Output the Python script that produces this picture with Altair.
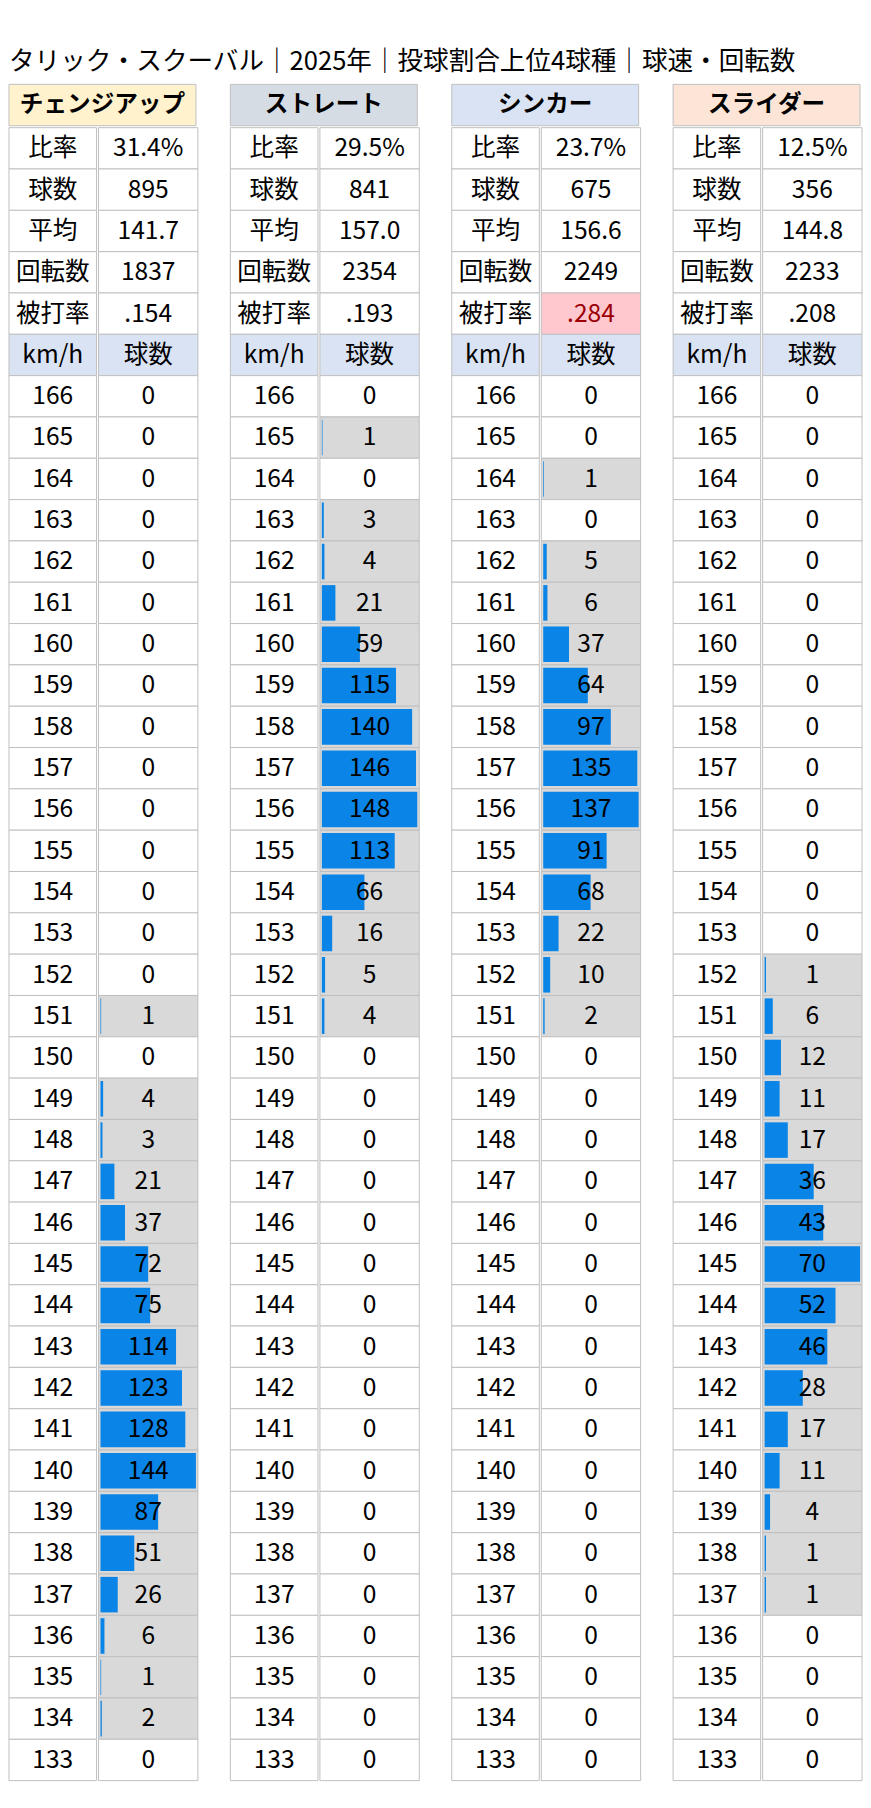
import altair as alt
import pandas as pd

TITLE = "タリック・スクーバル｜2025年｜投球割合上位4球種｜球速・回転数"
pitch_names = ["チェンジアップ", "ストレート", "シンカー", "スライダー"]
header_colors = ["#fff2cc", "#d6dce4", "#dae3f3", "#fce4d6"]
stat_labels = ["比率", "球数", "平均", "回転数", "被打率"]
stat_values = [
    ["31.4%", "895", "141.7", "1837", ".154"],
    ["29.5%", "841", "157.0", "2354", ".193"],
    ["23.7%", "675", "156.6", "2249", ".284"],
    ["12.5%", "356", "144.8", "2233", ".208"],
]
# (panel index, stat index) of highlighted cells
highlighted = [(2, 4)]
col_heads = ["km/h", "球数"]
speeds = [166, 165, 164, 163, 162, 161, 160, 159, 158, 157, 156, 155,
          154, 153, 152, 151, 150, 149, 148, 147, 146, 145, 144, 143,
          142, 141, 140, 139, 138, 137, 136, 135, 134, 133]
counts_changeup = [0, 0, 0, 0, 0, 0, 0, 0, 0, 0, 0, 0,
                   0, 0, 0, 1, 0, 4, 3, 21, 37, 72, 75, 114,
                   123, 128, 144, 87, 51, 26, 6, 1, 2, 0]
counts_fastball = [0, 1, 0, 3, 4, 21, 59, 115, 140, 146, 148, 113,
                   66, 16, 5, 4, 0, 0, 0, 0, 0, 0, 0, 0,
                   0, 0, 0, 0, 0, 0, 0, 0, 0, 0]
counts_sinker = [0, 0, 1, 0, 5, 6, 37, 64, 97, 135, 137, 91,
                 68, 22, 10, 2, 0, 0, 0, 0, 0, 0, 0, 0,
                 0, 0, 0, 0, 0, 0, 0, 0, 0, 0]
counts_slider = [0, 0, 0, 0, 0, 0, 0, 0, 0, 0, 0, 0,
                 0, 0, 1, 6, 12, 11, 17, 36, 43, 70, 52, 46,
                 28, 17, 11, 4, 1, 1, 0, 0, 0, 0]
all_counts = [counts_changeup, counts_fastball, counts_sinker, counts_slider]

FONT = "Noto Sans CJK JP"
LAB_W = 89
VAL_W = 101
ROW_H = 42
GAP = 31
GRID = "#bfbfbf"
HEAD_FILL = "#dae3f3"
BAR_GRAY = "#d9d9d9"
BAR_BLUE = "#0a84e6"
HI_FILL = "#ffc7ce"
HI_TEXT = "#9c0006"
FS = 25


def panel_df(p):
    recs = []
    r = 0
    for i, lab in enumerate(stat_labels):
        hi = (p, i) in highlighted
        recs.append(dict(row=r, label=lab, value=stat_values[p][i], count=0, kind="stat",
                         lfill="white", vfill=HI_FILL if hi else "white",
                         vcolor=HI_TEXT if hi else "black"))
        r += 1
    recs.append(dict(row=r, label=col_heads[0], value=col_heads[1], count=0, kind="head",
                     lfill=HEAD_FILL, vfill=HEAD_FILL, vcolor="black"))
    r += 1
    for s, c in zip(speeds, all_counts[p]):
        recs.append(dict(row=r, label=str(s), value=str(c), count=c, kind="speed",
                         lfill="white", vfill=BAR_GRAY if c > 0 else "white",
                         vcolor="black"))
        r += 1
    return pd.DataFrame(recs)


def make_panel(p):
    df = panel_df(p)
    n = len(df)
    yenc = alt.Y("row:O", axis=None, scale=alt.Scale(paddingInner=0, paddingOuter=0))
    base = alt.Chart(df)
    lab_rect = base.mark_rect(stroke=GRID, strokeWidth=1).encode(
        y=yenc, fill=alt.Fill("lfill:N", scale=None))
    lab_text = base.mark_text(font=FONT, fontSize=FS, baseline="middle", color="black").encode(
        y=yenc, text="label:N")
    lab_chart = alt.layer(lab_rect, lab_text).properties(width=LAB_W, height=n * ROW_H)

    maxc = max(all_counts[p])
    val_rect = base.mark_rect(stroke=GRID, strokeWidth=1).encode(
        y=yenc, fill=alt.Fill("vfill:N", scale=None))
    val_bar = base.transform_filter("datum.count > 0").mark_bar(
        color=BAR_BLUE, height={"band": 0.86}, xOffset=2).encode(
        y=yenc,
        x=alt.X("count:Q", axis=None,
                scale=alt.Scale(domain=[0, maxc], nice=False, zero=True, range=[0, VAL_W - 4])))
    val_text = base.mark_text(font=FONT, fontSize=FS, baseline="middle").encode(
        y=yenc, text="value:N", color=alt.Color("vcolor:N", scale=None))
    val_chart = alt.layer(val_rect, val_bar, val_text).properties(width=VAL_W, height=n * ROW_H)

    hdf = pd.DataFrame({"name": [pitch_names[p]], "fill": [header_colors[p]]})
    hy = alt.Y("name:N", axis=None, scale=alt.Scale(paddingInner=0, paddingOuter=0))
    hbase = alt.Chart(hdf)
    h_rect = hbase.mark_rect(stroke=GRID, strokeWidth=1).encode(
        y=hy, fill=alt.Fill("fill:N", scale=None))
    h_text = hbase.mark_text(font=FONT, fontSize=24, fontWeight="bold", baseline="middle",
                             color="black").encode(y=hy, text="name:N")
    header = alt.layer(h_rect, h_text).properties(width=LAB_W + VAL_W, height=ROW_H)

    body = alt.hconcat(lab_chart, val_chart, spacing=0).resolve_scale(
        x="independent", y="independent")
    return alt.vconcat(header, body, spacing=0).resolve_scale(x="independent", y="independent")


panels = [make_panel(p) for p in range(4)]
chart = alt.hconcat(*panels, spacing=GAP).resolve_scale(
    x="independent", y="independent").properties(
    title=alt.TitleParams(TITLE, anchor="start", font=FONT, fontSize=26, fontWeight="normal",
                          color="black", offset=9, frame="group"),
    padding={"left": 0, "top": 27, "right": 0, "bottom": 0},
).configure_view(stroke=None).configure_concat(spacing=0)

chart.save("out.html", embed_options={"renderer": "svg", "actions": False})
